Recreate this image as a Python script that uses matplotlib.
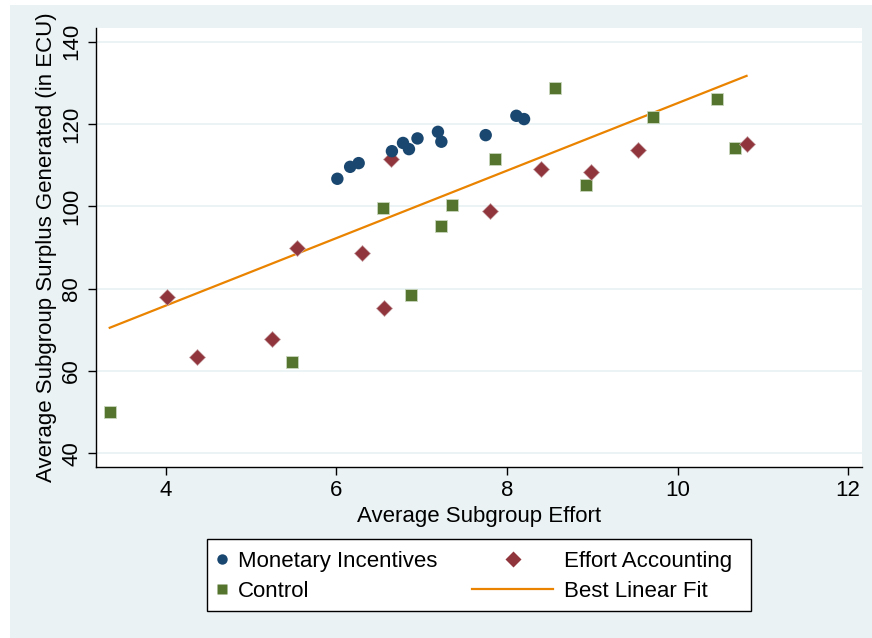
import matplotlib
matplotlib.use("Agg")
import matplotlib.pyplot as plt
from matplotlib.lines import Line2D
from matplotlib.patches import Rectangle

plt.rcParams['font.family'] = ['Liberation Sans', 'DejaVu Sans']

# Monetary Incentives (navy circles)
mon_x = [6.01, 6.16, 6.26, 6.65, 6.78, 6.85, 6.95, 7.19, 7.23, 7.75, 8.11, 8.20]
mon_y = [106.7, 109.6, 110.5, 113.4, 115.4, 113.9, 116.5, 118.1, 115.7, 117.3, 122.0, 121.2]

# Effort Accounting (maroon diamonds)
eff_x = [4.01, 4.36, 5.24, 5.54, 6.30, 6.56, 6.64, 7.80, 8.40, 8.99, 9.54, 10.81]
eff_y = [78.0, 63.3, 67.7, 90.0, 88.7, 75.3, 111.6, 98.8, 109.0, 108.4, 113.8, 115.2]

# Control (green squares)
ctl_x = [3.34, 5.48, 6.87, 6.55, 7.36, 7.23, 7.86, 8.56, 8.93, 9.71, 10.46, 10.68]
ctl_y = [50.0, 62.2, 78.4, 99.7, 100.3, 95.3, 111.6, 128.8, 105.2, 121.8, 126.1, 114.1]

# Best linear fit, end points
fit_x = [3.34, 10.81]
fit_y = [70.5, 131.7]

x_ticks = [4, 6, 8, 10, 12]
y_ticks = [40, 60, 80, 100, 120, 140]

BG = '#EAF2F3'
NAVY = '#1A476F'
MAROON = '#90353B'
GREEN = '#55752F'
ORANGE = '#E98300'
FS = 16

fig = plt.figure(figsize=(8.72, 6.38), dpi=100, facecolor='white')
# light background with thin white strip at top/left
fig.patches.append(Rectangle((10 / 872, 0), 1, 1 - 5 / 638, transform=fig.transFigure,
                             facecolor=BG, edgecolor='none', zorder=-10))

ax = fig.add_axes([96 / 872, 1 - 467 / 638, 766 / 872, 439 / 638])
ax.set_facecolor('white')

for yt in y_ticks:
    ax.axhline(yt, color=BG, lw=1.3, zorder=0)

ax.plot(fit_x, fit_y, color=ORANGE, lw=1.6, zorder=2)
ax.scatter(ctl_x, ctl_y, marker='s', s=68, color=GREEN, edgecolors='#C9D6BD',
           linewidths=0.6, zorder=3)
ax.scatter(eff_x, eff_y, marker='D', s=66, color=MAROON, edgecolors='#C9A5A8',
           linewidths=0.5, zorder=3)
ax.scatter(mon_x, mon_y, marker='o', s=80, color=NAVY, edgecolors='none', zorder=4)

ax.set_xlim(3.179, 12.164)
ax.set_ylim(36.67, 143.33)
ax.set_xticks(x_ticks)
ax.set_yticks(y_ticks)
ax.set_yticklabels([str(v) for v in y_ticks], rotation=90, va='center')
ax.tick_params(axis='both', direction='out', length=6, width=1, labelsize=FS,
               colors='black')
ax.tick_params(axis='x', pad=3)
ax.tick_params(axis='y', pad=4)
for side in ['top', 'right']:
    ax.spines[side].set_visible(False)
for side in ['left', 'bottom']:
    ax.spines[side].set_linewidth(1.0)

ax.set_xlabel('Average Subgroup Effort', fontsize=FS, labelpad=4)
ax.set_ylabel('Average Subgroup Surplus Generated (in ECU)', fontsize=FS, labelpad=3)

# legend frame
fig.patches.append(Rectangle((207 / 872, 1 - 611 / 638), 544 / 872, 72 / 638,
                             transform=fig.transFigure, facecolor='white',
                             edgecolor='black', lw=1.0, zorder=1))

h1 = [Line2D([], [], ls='none', marker='o', ms=7.5, color=NAVY, mec='none'),
      Line2D([], [], ls='none', marker='s', ms=7.5, color=GREEN, mec='none')]
leg1 = fig.legend(h1, ['Monetary Incentives', 'Control'], loc='center left',
                  bbox_to_anchor=(215 / 872, 1 - 576.5 / 638), frameon=False,
                  fontsize=FS, handlelength=0.6, handletextpad=0.45,
                  labelspacing=0.42, borderpad=0, borderaxespad=0)

h2 = [Line2D([], [], ls='none', marker='D', ms=8.5, color=MAROON, mec='none'),
      Line2D([], [], color=ORANGE, lw=1.6)]
leg2 = fig.legend(h2, ['Effort Accounting', 'Best Linear Fit'], loc='center left',
                  bbox_to_anchor=(472 / 872, 1 - 576.5 / 638), frameon=False,
                  fontsize=FS, handlelength=3.65, handletextpad=0.5,
                  labelspacing=0.42, borderpad=0, borderaxespad=0)
leg1.set_zorder(5)
leg2.set_zorder(5)

fig.savefig('out.png', dpi=100, facecolor=fig.get_facecolor())
